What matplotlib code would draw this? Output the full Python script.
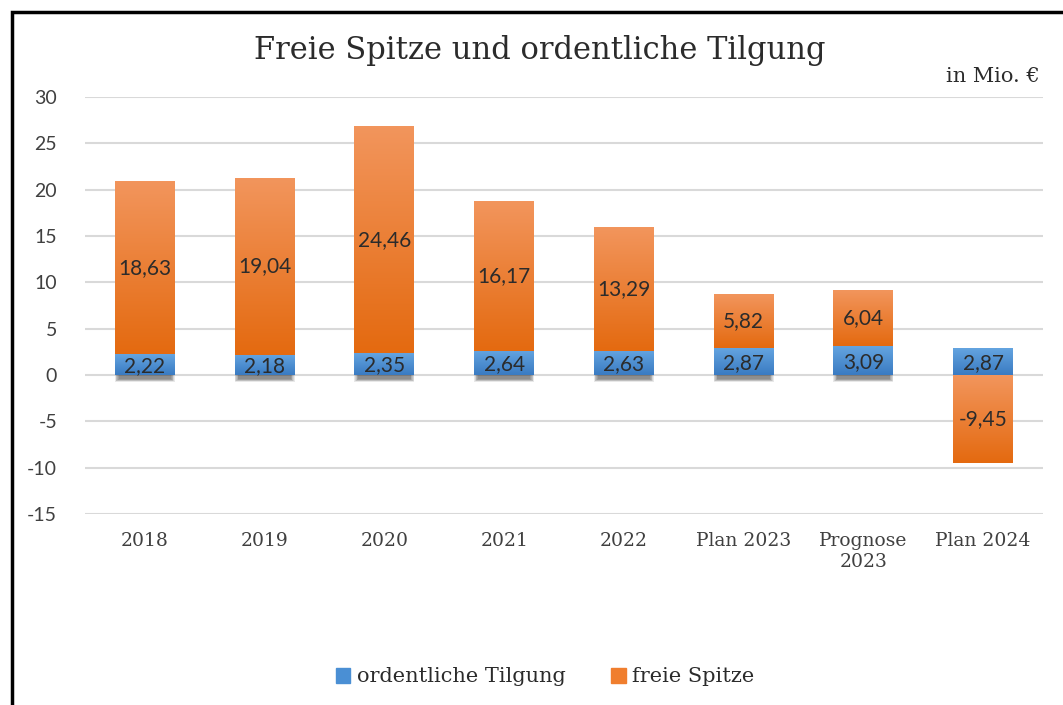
import matplotlib.pyplot as plt
import numpy as np
from matplotlib.patches import Rectangle

# Daten (in Mio. €)
kategorien = ["2018", "2019", "2020", "2021", "2022", "Plan 2023", "Prognose\n2023", "Plan 2024"]
tilgung = [2.22, 2.18, 2.35, 2.64, 2.63, 2.87, 3.09, 2.87]
freie_spitze = [18.63, 19.04, 24.46, 16.17, 13.29, 5.82, 6.04, -9.45]
y_ticks = [30, 25, 20, 15, 10, 5, 0, -5, -10, -15]

serif = ["DejaVu Serif"]
sans = ["Lato", "DejaVu Sans"]
textfarbe = "#2b2b2b"

fig = plt.figure(figsize=(10.63, 7.05), dpi=100)
ax = fig.add_axes([85 / 1063, 1 - 514 / 705, (1043 - 85) / 1063, (514 - 97) / 705])

# Rahmen um die Grafik
fig.patches.append(Rectangle((12 / 1063, -0.1), 1.1, 1 - 12 / 705 + 0.1, transform=fig.transFigure,
                             fill=False, edgecolor="black", linewidth=2.5, zorder=10))

x = np.arange(len(kategorien))
breite = 0.5


def verlauf(ax, x0, y0, y1, oben, unten):
    # Farbverlauf von oben (hell) nach unten (dunkel)
    lo, hi = min(y0, y1), max(y0, y1)
    c1 = np.array(plt.matplotlib.colors.to_rgb(oben))
    c2 = np.array(plt.matplotlib.colors.to_rgb(unten))
    t = np.linspace(0, 1, 64)[:, None]
    img = (c1 * (1 - t) + c2 * t)[:, None, :]
    ax.imshow(img, extent=(x0 - breite / 2, x0 + breite / 2, lo, hi), aspect="auto",
              origin="upper", zorder=3, interpolation="bilinear")


for i in range(len(kategorien)):
    t = tilgung[i]
    f = freie_spitze[i]
    # Schatten unter der Tilgung (weich)
    if f >= 0:
        for k in range(6):
            ax.add_patch(Rectangle((x[i] - breite / 2 + 0.03 - k * 0.006, -0.45 - k * 0.06),
                                   breite - 0.06 + k * 0.012, 0.6 + k * 0.06, color="black",
                                   alpha=0.09, lw=0, zorder=2))
    verlauf(ax, x[i], 0, t, "#64A4E0", "#3A7BC2")
    if f >= 0:
        verlauf(ax, x[i], t, t + f, "#F2955C", "#E46A10")
        ax.text(x[i], t + f / 2, f"{f:.2f}".replace(".", ","), ha="center", va="center",
                fontsize=15, color=textfarbe, family=sans, zorder=5)
    else:
        verlauf(ax, x[i], 0, f, "#F2955C", "#E46A10")
        ax.text(x[i], f / 2, f"{f:.2f}".replace(".", ","), ha="center", va="center",
                fontsize=15, color=textfarbe, family=sans, zorder=5)
    ax.text(x[i], t / 2 - 0.1, f"{t:.2f}".replace(".", ","), ha="center", va="center",
            fontsize=15, color=textfarbe, family=sans, zorder=5)

ax.set_xlim(-0.5, len(kategorien) - 0.5)
ax.set_ylim(-15, 30)
ax.set_yticks(y_ticks)
ax.set_yticklabels([str(v) for v in y_ticks], family=sans, fontsize=14, color="#404040")
ax.set_xticks(x)
ax.set_xticklabels(kategorien, family=serif, fontsize=13.5, color="#404040", linespacing=1.2)
ax.tick_params(length=0, pad=13)
ax.tick_params(axis="y", pad=20)
ax.grid(axis="y", color="#D9D9D9", linewidth=1.5, zorder=0)
ax.set_axisbelow(True)
for s in ax.spines.values():
    s.set_visible(False)

fig.text(540 / 1063, 1 - 50 / 705, "Freie Spitze und ordentliche Tilgung", ha="center", va="center",
         fontsize=22, family=serif, color=textfarbe)
fig.text(1040 / 1063, 1 - 77 / 705, "in Mio. €", ha="right", va="center",
         fontsize=15, family=serif, color=textfarbe)

# Legende
h1 = Rectangle((0, 0), 1, 1, color="#4A8FD4")
h2 = Rectangle((0, 0), 1, 1, color="#F07E2E")
fig.legend([h1, h2], ["ordentliche Tilgung", "freie Spitze"], loc="center",
           bbox_to_anchor=(545 / 1063, 1 - 677 / 705), ncol=2, frameon=False,
           prop={"family": serif, "size": 15}, handlelength=0.7, handleheight=0.7,
           handletextpad=0.3, columnspacing=2.2, labelcolor=textfarbe)

fig.savefig("out.png", dpi=100)
